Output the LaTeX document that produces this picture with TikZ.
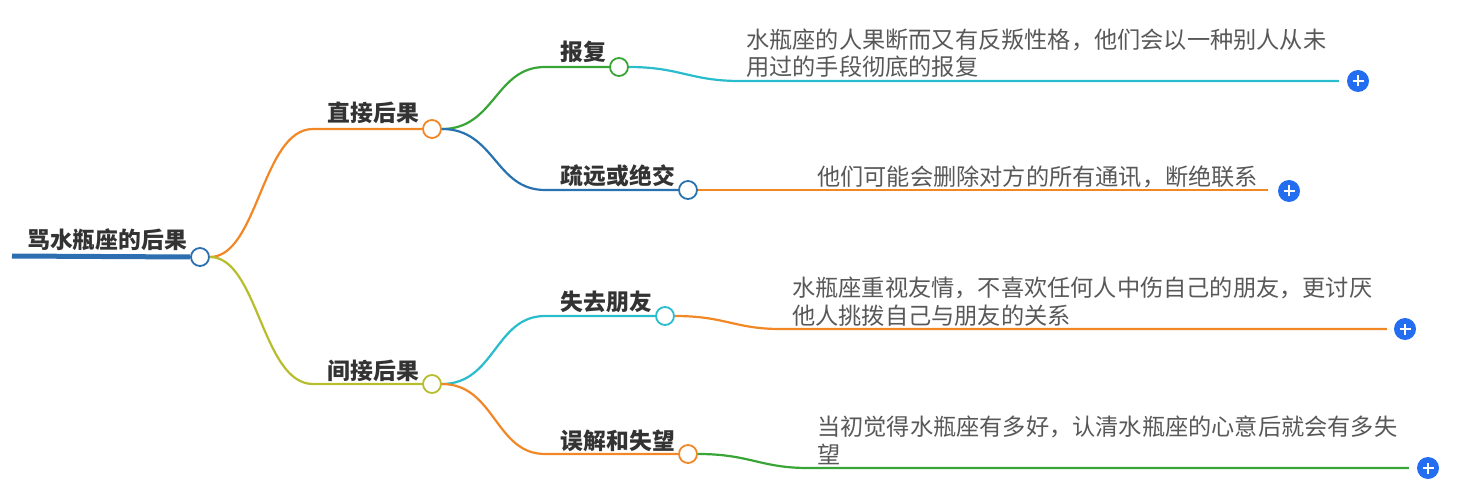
\documentclass[tikz,border=0pt]{standalone}
\usepackage{fontspec}
\setmainfont{Noto Sans CJK SC}
\definecolor{rootblue}{RGB}{44,110,176}
\definecolor{corange}{RGB}{242,135,38}
\definecolor{cgreen}{RGB}{58,165,55}
\definecolor{cblue}{RGB}{40,115,175}
\definecolor{ccyan}{RGB}{40,188,205}
\definecolor{colive}{RGB}{182,190,45}
\definecolor{plusblue}{RGB}{35,110,240}
\definecolor{headtext}{RGB}{51,51,51}
\definecolor{bodytext}{RGB}{88,88,88}
\begin{document}
\begin{tikzpicture}[x=1pt,y=-1pt,
  hub/.style={circle,draw=#1,fill=white,line width=1.8pt,minimum size=18pt,inner sep=0pt},
  head/.style={font=\fontsize{22.8}{26}\selectfont\bfseries,text=headtext,inner sep=0pt},
  body/.style={font=\fontsize{23.2}{27.5}\selectfont,text=bodytext,inner sep=0pt,align=left},
  link/.style={draw=#1,line width=2.2pt},
  plus/.style={circle,fill=plusblue,minimum size=22pt,inner sep=0pt,
    path picture={\draw[white,line width=2.2pt]
      ([xshift=-5.5pt]path picture bounding box.center) -- ([xshift=5.5pt]path picture bounding box.center)
      ([yshift=-5.5pt]path picture bounding box.center) -- ([yshift=5.5pt]path picture bounding box.center);}}]
\useasboundingbox (0,0) rectangle (1457,497);

% root
\coordinate (rs) at (12,256);
\node[hub=rootblue] (rc) at (200,257) {};
\draw[rootblue,line width=5pt] (rs) -- (rc.west);
\node[head,anchor=base west] (rt) at (27,249) {骂水瓶座的后果};

% level 1
\node[hub=corange] (c1) at (432,129) {};
\node[head,anchor=base east] (t1) at (419,122) {直接后果};
\node[hub=colive] (c2) at (432,384) {};
\node[head,anchor=base east] (t2) at (419,379) {间接后果};

\draw[link=corange] (rc.east) .. controls (258,257) and (262,129) .. (313,129) -- (c1.west);
\draw[link=colive] (rc.east) .. controls (258,257) and (262,384) .. (313,384) -- (c2.west);

% level 2
\node[hub=cgreen] (b1) at (619,67) {};
\node[head,anchor=base east] (s1) at (606,61) {报复};
\node[hub=cblue] (b2) at (688,190) {};
\node[head,anchor=base east] (s2) at (675,185) {疏远或绝交};
\node[hub=ccyan] (b3) at (665,316) {};
\node[head,anchor=base east] (s3) at (652,310) {失去朋友};
\node[hub=corange] (b4) at (688,454) {};
\node[head,anchor=base east] (s4) at (675,449) {误解和失望};

\draw[link=cgreen] (c1.east) .. controls (495,129) and (495,67) .. (545,67) -- (b1.west);
\draw[link=cblue] (c1.east) .. controls (495,129) and (495,190) .. (545,190) -- (b2.west);
\draw[link=ccyan] (c2.east) .. controls (495,384) and (495,316) .. (545,316) -- (b3.west);
\draw[link=corange] (c2.east) .. controls (495,384) and (495,454) .. (545,454) -- (b4.west);

% details
\node[plus] (p1) at (1358,81) {};
\node[plus] (p2) at (1289,191) {};
\node[plus] (p3) at (1405,329) {};
\node[plus] (p4) at (1428,468) {};

\node[body,anchor=base west] (d1) at (746,76) {水瓶座的人果断而又有反叛性格，他们会以一种别人从未\\用过的手段彻底的报复};
\node[body,anchor=base west] (d2) at (817,186) {他们可能会删除对方的所有通讯，断绝联系};
\node[body,anchor=base west] (d3) at (792,324) {水瓶座重视友情，不喜欢任何人中伤自己的朋友，更讨厌\\他人挑拨自己与朋友的关系};
\node[body,anchor=base west] (d4) at (817,463) {当初觉得水瓶座有多好，认清水瓶座的心意后就会有多失\\望};

\draw[link=ccyan] (b1.east) .. controls (680,67) and (690,81) .. (740,81) -- ([xshift=-8pt]p1.west);
\draw[link=corange] (b2.east) -- ([xshift=-10pt]p2.west |- b2.east);
\draw[link=corange] (b3.east) .. controls (725,316) and (735,329) .. (780,329) -- ([xshift=-7pt]p3.west);
\draw[link=cgreen] (b4.east) .. controls (750,454) and (760,468) .. (808,468) -- ([xshift=-8pt]p4.west);
\end{tikzpicture}
\end{document}
